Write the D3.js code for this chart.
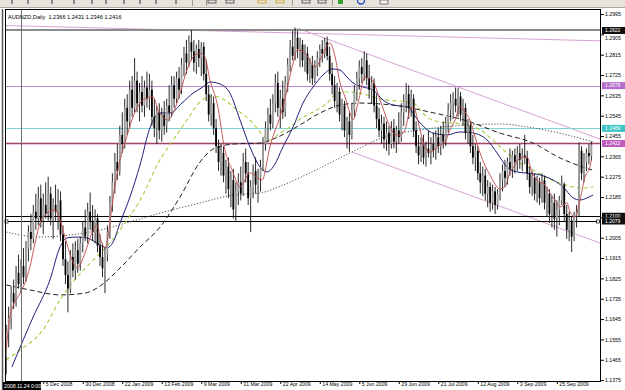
<!DOCTYPE html>
<html>
<head>
<meta charset="utf-8">
<script src="https://cdnjs.cloudflare.com/ajax/libs/d3/7.8.5/d3.min.js"></script>
<style>
  body { margin: 0; background: #fff; }
  svg { display: block; font-family: "Liberation Sans", Arial, sans-serif; }
</style>
</head>
<body>
<script>
// ---------------------- DATA ----------------------
// daily bars, index 0 = 14 Nov 2008 ... 237 = 15 Oct 2009
const open = [
  1.1480,1.1590,1.1650,1.1760,1.1720,1.1850,1.1800,1.1880,1.1830,1.1960,
  1.2030,1.2000,1.2120,1.2090,1.2180,1.2080,1.2150,1.2110,1.2200,1.2090,
  1.2150,1.2120,1.2170,1.2020,1.1910,1.1840,1.1780,1.1920,1.1860,1.1950,
  1.1890,1.1980,1.2050,1.2010,1.2120,1.2080,1.2030,1.2090,1.1970,1.1920,
  1.1870,1.1930,1.2030,1.2160,1.2250,1.2340,1.2300,1.2460,1.2420,1.2580,
  1.2520,1.2660,1.2580,1.2700,1.2600,1.2650,1.2590,1.2670,1.2620,1.2660,
  1.2540,1.2490,1.2560,1.2480,1.2550,1.2500,1.2590,1.2560,1.2680,1.2620,
  1.2710,1.2660,1.2770,1.2820,1.2780,1.2870,1.2830,1.2780,1.2840,1.2800,
  1.2850,1.2730,1.2640,1.2550,1.2600,1.2490,1.2410,1.2340,1.2380,1.2280,
  1.2320,1.2220,1.2260,1.2130,1.2210,1.2250,1.2200,1.2340,1.2290,1.2180,
  1.2230,1.2300,1.2240,1.2270,1.2320,1.2420,1.2490,1.2550,1.2510,1.2600,
  1.2690,1.2580,1.2620,1.2560,1.2690,1.2770,1.2850,1.2810,1.2890,1.2840,
  1.2860,1.2790,1.2820,1.2730,1.2770,1.2710,1.2760,1.2800,1.2840,1.2820,
  1.2870,1.2810,1.2730,1.2680,1.2610,1.2650,1.2550,1.2590,1.2480,1.2520,
  1.2460,1.2570,1.2650,1.2710,1.2760,1.2730,1.2790,1.2710,1.2660,1.2690,
  1.2590,1.2530,1.2480,1.2510,1.2440,1.2470,1.2420,1.2490,1.2430,1.2480,
  1.2450,1.2560,1.2610,1.2640,1.2580,1.2620,1.2480,1.2410,1.2370,1.2420,
  1.2360,1.2400,1.2380,1.2420,1.2390,1.2450,1.2410,1.2460,1.2430,1.2510,
  1.2570,1.2600,1.2620,1.2590,1.2630,1.2550,1.2580,1.2470,1.2500,1.2410,
  1.2360,1.2390,1.2290,1.2250,1.2280,1.2200,1.2230,1.2160,1.2210,1.2150,
  1.2200,1.2260,1.2300,1.2270,1.2340,1.2310,1.2370,1.2340,1.2380,1.2350,
  1.2370,1.2360,1.2290,1.2230,1.2270,1.2200,1.2250,1.2180,1.2260,1.2160,
  1.2200,1.2110,1.2160,1.2090,1.2130,1.2170,1.2240,1.2110,1.2040,1.2080,
  1.2010,1.2100,1.2120,1.2390,1.2290,1.2340,1.2380,1.2366
];
const high = [
  1.1620,1.1700,1.1790,1.1820,1.1880,1.1930,1.1910,1.1960,1.1990,1.2060,
  1.2110,1.2150,1.2200,1.2230,1.2240,1.2200,1.2250,1.2275,1.2230,1.2180,
  1.2240,1.2220,1.2210,1.2060,1.1990,1.1900,1.1950,1.1980,1.1990,1.2000,
  1.2010,1.2080,1.2130,1.2160,1.2205,1.2150,1.2130,1.2110,1.2020,1.1980,
  1.1960,1.2060,1.2190,1.2290,1.2380,1.2420,1.2500,1.2560,1.2620,1.2640,
  1.2700,1.2720,1.2800,1.2740,1.2690,1.2720,1.2700,1.2740,1.2730,1.2700,
  1.2620,1.2590,1.2600,1.2580,1.2610,1.2620,1.2680,1.2720,1.2720,1.2740,
  1.2760,1.2800,1.2850,1.2880,1.2900,1.2925,1.2880,1.2860,1.2880,1.2870,
  1.2870,1.2790,1.2680,1.2640,1.2630,1.2530,1.2440,1.2420,1.2410,1.2350,
  1.2360,1.2300,1.2310,1.2250,1.2290,1.2320,1.2380,1.2400,1.2340,1.2260,
  1.2330,1.2360,1.2310,1.2350,1.2450,1.2520,1.2580,1.2620,1.2640,1.2730,
  1.2740,1.2660,1.2700,1.2720,1.2800,1.2880,1.2920,1.2935,1.2920,1.2890,
  1.2880,1.2860,1.2850,1.2800,1.2810,1.2790,1.2830,1.2860,1.2880,1.2890,
  1.2895,1.2850,1.2780,1.2720,1.2690,1.2670,1.2620,1.2610,1.2540,1.2560,
  1.2600,1.2680,1.2740,1.2790,1.2800,1.2830,1.2820,1.2770,1.2720,1.2710,
  1.2640,1.2580,1.2550,1.2540,1.2520,1.2500,1.2520,1.2530,1.2500,1.2560,
  1.2600,1.2640,1.2690,1.2680,1.2660,1.2640,1.2520,1.2460,1.2450,1.2460,
  1.2430,1.2480,1.2450,1.2470,1.2480,1.2490,1.2500,1.2520,1.2540,1.2600,
  1.2640,1.2650,1.2670,1.2668,1.2650,1.2620,1.2600,1.2530,1.2520,1.2460,
  1.2420,1.2410,1.2340,1.2320,1.2310,1.2260,1.2250,1.2240,1.2230,1.2220,
  1.2290,1.2330,1.2350,1.2360,1.2400,1.2390,1.2400,1.2410,1.2420,1.2400,
  1.2460,1.2390,1.2320,1.2300,1.2290,1.2280,1.2270,1.2290,1.2280,1.2230,
  1.2220,1.2190,1.2200,1.2170,1.2190,1.2280,1.2250,1.2150,1.2120,1.2100,
  1.2120,1.2150,1.2425,1.2410,1.2380,1.2400,1.2420,1.2431
];
const low = [
  1.1400,1.1520,1.1600,1.1690,1.1700,1.1780,1.1760,1.1800,1.1810,1.1900,
  1.1950,1.1980,1.2040,1.2060,1.2050,1.2020,1.2090,1.2080,1.2060,1.2000,
  1.2080,1.2040,1.1990,1.1880,1.1800,1.1675,1.1760,1.1830,1.1820,1.1850,
  1.1860,1.1940,1.1990,1.1980,1.2040,1.1990,1.1980,1.1940,1.1880,1.1830,
  1.1760,1.1900,1.2000,1.2120,1.2200,1.2260,1.2280,1.2380,1.2400,1.2460,
  1.2490,1.2540,1.2560,1.2560,1.2520,1.2560,1.2540,1.2580,1.2570,1.2500,
  1.2450,1.2420,1.2440,1.2430,1.2460,1.2470,1.2520,1.2540,1.2580,1.2600,
  1.2620,1.2640,1.2720,1.2730,1.2760,1.2790,1.2740,1.2730,1.2760,1.2720,
  1.2700,1.2610,1.2520,1.2500,1.2460,1.2380,1.2300,1.2280,1.2250,1.2200,
  1.2180,1.2140,1.2090,1.2080,1.2150,1.2170,1.2190,1.2250,1.2150,1.2030,
  1.2180,1.2200,1.2160,1.2210,1.2300,1.2390,1.2430,1.2480,1.2490,1.2560,
  1.2540,1.2490,1.2530,1.2540,1.2650,1.2740,1.2790,1.2790,1.2800,1.2760,
  1.2760,1.2740,1.2700,1.2690,1.2680,1.2690,1.2720,1.2760,1.2780,1.2800,
  1.2790,1.2700,1.2640,1.2580,1.2560,1.2520,1.2480,1.2450,1.2400,1.2385,
  1.2440,1.2540,1.2610,1.2660,1.2690,1.2700,1.2680,1.2620,1.2600,1.2560,
  1.2490,1.2450,1.2420,1.2400,1.2390,1.2370,1.2400,1.2400,1.2380,1.2420,
  1.2430,1.2500,1.2560,1.2530,1.2540,1.2450,1.2380,1.2330,1.2340,1.2330,
  1.2320,1.2360,1.2330,1.2360,1.2350,1.2380,1.2370,1.2400,1.2410,1.2470,
  1.2520,1.2530,1.2560,1.2540,1.2520,1.2500,1.2440,1.2420,1.2380,1.2330,
  1.2300,1.2260,1.2200,1.2190,1.2170,1.2140,1.2120,1.2130,1.2110,1.2130,
  1.2170,1.2210,1.2230,1.2240,1.2280,1.2270,1.2290,1.2300,1.2310,1.2300,
  1.2330,1.2260,1.2200,1.2190,1.2170,1.2160,1.2150,1.2160,1.2130,1.2100,
  1.2070,1.2050,1.2040,1.2010,1.2060,1.2150,1.2080,1.2000,1.1990,1.1942,
  1.1990,1.2050,1.2100,1.2260,1.2250,1.2300,1.2330,1.2346
];
const close = [
  1.1590,1.1650,1.1760,1.1720,1.1850,1.1800,1.1880,1.1830,1.1960,1.2030,
  1.2000,1.2120,1.2090,1.2180,1.2080,1.2150,1.2110,1.2200,1.2090,1.2150,
  1.2120,1.2170,1.2020,1.1910,1.1840,1.1780,1.1920,1.1860,1.1950,1.1890,
  1.1980,1.2050,1.2010,1.2120,1.2080,1.2030,1.2090,1.1970,1.1920,1.1870,
  1.1930,1.2030,1.2160,1.2250,1.2340,1.2300,1.2460,1.2420,1.2580,1.2520,
  1.2660,1.2580,1.2700,1.2600,1.2650,1.2590,1.2670,1.2620,1.2660,1.2540,
  1.2490,1.2560,1.2480,1.2550,1.2500,1.2590,1.2560,1.2680,1.2620,1.2710,
  1.2660,1.2770,1.2820,1.2780,1.2870,1.2830,1.2780,1.2840,1.2800,1.2850,
  1.2730,1.2640,1.2550,1.2600,1.2490,1.2410,1.2340,1.2380,1.2280,1.2320,
  1.2220,1.2260,1.2130,1.2210,1.2250,1.2200,1.2340,1.2290,1.2180,1.2230,
  1.2300,1.2240,1.2270,1.2320,1.2420,1.2490,1.2550,1.2510,1.2600,1.2690,
  1.2580,1.2620,1.2560,1.2690,1.2770,1.2850,1.2810,1.2890,1.2840,1.2860,
  1.2790,1.2820,1.2730,1.2770,1.2710,1.2760,1.2800,1.2840,1.2820,1.2870,
  1.2810,1.2730,1.2680,1.2610,1.2650,1.2550,1.2590,1.2480,1.2520,1.2460,
  1.2570,1.2650,1.2710,1.2760,1.2730,1.2790,1.2710,1.2660,1.2690,1.2590,
  1.2530,1.2480,1.2510,1.2440,1.2470,1.2420,1.2490,1.2430,1.2480,1.2450,
  1.2560,1.2610,1.2640,1.2580,1.2620,1.2480,1.2410,1.2370,1.2420,1.2360,
  1.2400,1.2380,1.2420,1.2390,1.2450,1.2410,1.2460,1.2430,1.2510,1.2570,
  1.2600,1.2620,1.2590,1.2630,1.2550,1.2580,1.2470,1.2500,1.2410,1.2360,
  1.2390,1.2290,1.2250,1.2280,1.2200,1.2230,1.2160,1.2210,1.2150,1.2200,
  1.2260,1.2300,1.2270,1.2340,1.2310,1.2370,1.2340,1.2380,1.2350,1.2370,
  1.2360,1.2290,1.2230,1.2270,1.2200,1.2250,1.2180,1.2260,1.2160,1.2200,
  1.2110,1.2160,1.2090,1.2130,1.2170,1.2240,1.2110,1.2040,1.2080,1.2010,
  1.2100,1.2120,1.2390,1.2290,1.2340,1.2380,1.2366,1.2416
];

// moving averages as [bar index, price]
const maRed = [
  [0,1.1508],[1.5,1.1654],[5.6,1.1760],[7.6,1.1805],[9.6,1.1876],[11.7,1.1982],[13.7,1.2070],
  [16.5,1.2114],[19.8,1.2128],[21.8,1.2083],[23.8,1.2008],[26.7,1.1906],[28.7,1.1871],
  [31.9,1.1937],[34.7,1.2026],[36.8,1.2061],[38,1.2008],[40,1.1960],[41.2,1.2008],
  [42.9,1.2150],[44.1,1.2238],[46.1,1.2349],[48.1,1.2424],[50.9,1.2526],[54.2,1.2601],
  [57,1.2623],[59.5,1.2628],[61.5,1.2570],[63.5,1.2539],[65.5,1.2526],[67.6,1.2557],
  [70.4,1.2645],[73.2,1.2747],[75.7,1.2805],[78.5,1.2822],[80.5,1.2805],[82.5,1.2703],
  [85.4,1.2601],[88.6,1.2393],[91.5,1.2305],[94.7,1.2230],[98.7,1.2292],[103.6,1.2260],
  [106.8,1.2407],[112.1,1.2584],[116.2,1.2778],[117.8,1.2836],[121,1.2822],[125.1,1.2760],
  [129.1,1.2836],[131.1,1.2867],[133.2,1.2805],[135.2,1.2690],[137.2,1.2628],[139.2,1.2557],
  [140.5,1.2526],[142.5,1.2601],[145.3,1.2716],[148.2,1.2703],[151.4,1.2614],[155.5,1.2495],
  [157.5,1.2460],[159.5,1.2460],[161.5,1.2482],[163.5,1.2570],[164.8,1.2584],[167.6,1.2482],
  [169.6,1.2402],[171.6,1.2384],[175.7,1.2415],[177.7,1.2429],[179.7,1.2482],[181.8,1.2526],
  [183.8,1.2584],[185.8,1.2561],[187.8,1.2526],[189.9,1.2451],[191.9,1.2380],[195.9,1.2283],
  [200,1.2221],[202,1.2230],[204,1.2292],[206.1,1.2327],[208.1,1.2358],[210.9,1.2362],
  [212.9,1.2296],[215,1.2260],[218.2,1.2238],[220.2,1.2203],[222.3,1.2172],[224.3,1.2141],
  [227.1,1.2160],[228.3,1.2120],[230.4,1.2097],[232.4,1.2172],[234.4,1.2274],[236.4,1.2318],
  [237,1.2349]
];
const maBlue = [
  [2.3,1.1433],[10.9,1.1654],[17.7,1.1818],[21.8,1.1964],[24.6,1.2004],[28.7,1.2008],
  [32.7,1.2004],[38,1.1973],[40.8,1.1960],[43.3,1.1986],[46.1,1.2070],[50.1,1.2185],
  [54.2,1.2327],[58.2,1.2491],[62.3,1.2557],[66.3,1.2557],[71.2,1.2601],[75.7,1.2645],
  [79.7,1.2672],[82.5,1.2694],[86.6,1.2685],[90.6,1.2645],[94.7,1.2526],[98.7,1.2407],
  [102.8,1.2318],[105.6,1.2296],[108.1,1.2318],[112.1,1.2407],[116.2,1.2495],[120.2,1.2601],
  [124.3,1.2672],[128.3,1.2725],[132,1.2752],[135.2,1.2747],[138,1.2716],[140.5,1.2690],
  [144.5,1.2672],[148.6,1.2659],[152.6,1.2614],[156.7,1.2592],[162.3,1.2584],[167.6,1.2513],
  [172.9,1.2468],[178.5,1.2460],[183.8,1.2473],[189.1,1.2468],[194.7,1.2438],[198.8,1.2380],
  [202.8,1.2318],[206.9,1.2296],[210.9,1.2291],[216.2,1.2283],[221.5,1.2260],[225.5,1.2230],
  [229.6,1.2181],[232.4,1.2172],[235.2,1.2181],[237.7,1.2194]
];
const maGreen = [
  [0,1.1464],[5.6,1.1508],[14.9,1.1597],[21.8,1.1730],[28.7,1.1831],[35.2,1.1906],
  [42,1.1982],[48.9,1.2083],[55.4,1.2194],[61.1,1.2327],[67.6,1.2437],[73.2,1.2526],
  [78.5,1.2606],[83.8,1.2632],[87.8,1.2619],[93.5,1.2570],[98.7,1.2526],[104,1.2460],
  [106.8,1.2437],[110.9,1.2468],[114.9,1.2495],[120.2,1.2539],[124.3,1.2561],[129.9,1.2601],
  [134,1.2645],[138,1.2650],[143.3,1.2645],[148.6,1.2628],[154.2,1.2614],[159.5,1.2610],
  [164.8,1.2601],[170.4,1.2539],[175.7,1.2517],[181,1.2513],[186.6,1.2504],[191.9,1.2482],
  [197.2,1.2437],[202.8,1.2380],[208.1,1.2336],[213.4,1.2305],[219,1.2269],[224.3,1.2247],
  [229.6,1.2230],[233.6,1.2225],[237.7,1.2230]
];
const maDashed = [
  [0,1.1796],[9.6,1.1774],[21.8,1.1752],[31.9,1.1760],[38,1.1791],[46.1,1.1871],
  [54.2,1.1964],[62.3,1.2052],[70.4,1.2185],[78.5,1.2340],[84.6,1.2402],[92.7,1.2420],
  [102.8,1.2424],[110.9,1.2455],[119,1.2504],[127.1,1.2557],[135.2,1.2592],[143.3,1.2601],
  [151.4,1.2597],[159.5,1.2588],[171.6,1.2561],[186.6,1.2522],[200,1.2468],[213.4,1.2424],
  [224.3,1.2358],[232.4,1.2322],[237.3,1.2305]
];
const maDotted = [
  [0,1.2030],[13.7,1.2008],[25.8,1.2017],[38,1.2039],[50.1,1.2075],[62.3,1.2114],
  [78.5,1.2159],[91.9,1.2194],[102.8,1.2203],[112.1,1.2238],[123,1.2292],[139.2,1.2380],
  [154.2,1.2455],[167.6,1.2482],[186.6,1.2504],[200,1.2508],[213.4,1.2491],[227.1,1.2460],
  [237.7,1.2429]
];

// drawn objects: horizontal levels and trend lines [bar index, price]
const levels = [1.2922, 1.2678, 1.2489, 1.2422, 1.2100, 1.2079];
const levelColors = ["#8c8c8c", "#c088d4", "#80d4d4", "#985050", "#000000", "#000000"];
const levelBoxColors = ["#101010", "#b46ccc", "#3cc4c4", "#c05cc0", "#101010", "#101010"];
const topLine = [[-0.5, 1.2944], [240.9, 1.2876]];
const channelHigh = [[117.8, 1.2933], [240.9, 1.2440]];
const channelLow = [[140.1, 1.2384], [240.9, 1.1980]];

// axes
const yTicks = [1.2995,1.2905,1.2815,1.2725,1.2635,1.2545,1.2455,1.2365,1.2275,1.2185,
  1.2095,1.2005,1.1915,1.1825,1.1735,1.1645,1.1555,1.1465,1.1375];
const xTickIdx = [15,31,47,63,79,95,111,127,143,159,175,191,207,223];
const xTickLabels = ["5 Dec 2008","30 Dec 2008","22 Jan 2009","13 Feb 2009","9 Mar 2009",
  "31 Mar 2009","22 Apr 2009","14 May 2009","5 Jun 2009","29 Jun 2009","21 Jul 2009",
  "12 Aug 2009","3 Sep 2009","25 Sep 2009"];
const crossIdx = 6;
const crossLabel = "2008.11.24 0:00";
const header = "AUDNZD,Daily  1.2366 1.2431 1.2346 1.2416";

// ---------------------- LAYOUT ----------------------
const W = 625, H = 390;
const plot = { left: 5, right: 601, top: 9, bottom: 381 };

const svg = d3.select("body").append("svg")
    .attr("width", W)
    .attr("height", H);

const x = d3.scaleLinear().domain([0, 237]).range([6.2, 591.4]);
const y = d3.scaleLinear().domain([1.1375, 1.2995]).range([380.1, 14]);
const crisp = v => Math.round(v) + 0.5;   // snap 1px lines onto a pixel row

svg.append("defs").append("clipPath").attr("id", "clip")
  .append("rect")
    .attr("x", plot.left).attr("y", plot.top)
    .attr("width", plot.right - plot.left).attr("height", plot.bottom - plot.top);

// toolbar strip on top (cut off in the screenshot)
const tb = svg.append("g");
tb.append("rect").attr("width", W).attr("height", 8).attr("fill", "#e6e3dc");
tb.append("line").attr("x1", 0).attr("x2", W).attr("y1", 7.5).attr("y2", 7.5).attr("stroke", "#a8a6a0");
// icon stubs peeking out of the cropped toolbar
[12, 28, 52, 74, 92, 106, 124, 140, 156, 176].forEach(px => {
  tb.append("line").attr("x1", px).attr("x2", px).attr("y1", 0).attr("y2", 4)
      .attr("stroke", "#333").attr("stroke-width", 1);
});
[192, 206, 292, 332].forEach(px => {
  tb.append("line").attr("x1", px + 0.5).attr("x2", px + 0.5).attr("y1", 0).attr("y2", 6)
      .attr("stroke", "#9a9890").attr("stroke-width", 1);
});
[[212, "#404040"], [230, "#404040"], [262, "#d0a020"], [280, "#d0a020"], [306, "#404040"], [322, "#404040"]]
  .forEach(([px, col]) => {
    tb.append("rect").attr("x", px - 4).attr("y", 0).attr("width", 8).attr("height", 3)
        .attr("fill", "none").attr("stroke", col).attr("stroke-width", 0.8);
  });
tb.append("rect").attr("x", 338).attr("y", 0).attr("width", 5).attr("height", 4).attr("fill", "#30a030");
tb.append("circle").attr("cx", 361).attr("cy", 0.5).attr("r", 3.5)
    .attr("fill", "none").attr("stroke", "#2050c0").attr("stroke-width", 1.4);
tb.append("rect").attr("x", 380).attr("y", 0).attr("width", 8).attr("height", 4)
    .attr("fill", "#f4f4f4").attr("stroke", "#606060").attr("stroke-width", 0.8);

const chart = svg.append("g").attr("clip-path", "url(#clip)");

// trend lines
const seg = d3.line().x(d => x(d[0])).y(d => y(d[1]));
[topLine, channelHigh, channelLow].forEach(pts => {
  chart.append("path").attr("d", seg(pts))
      .attr("fill", "none").attr("stroke", "#d9a2d2").attr("stroke-width", 1);
});

// horizontal levels
levels.forEach((lv, k) => {
  const ly = k === 0 ? Math.round(y(lv)) : crisp(y(lv));
  if (lv === 1.2422) {
    chart.append("line")
        .attr("x1", plot.left).attr("x2", plot.right)
        .attr("y1", ly).attr("y2", ly)
        .attr("stroke", "#ebc3e4").attr("stroke-width", 3);
  }
  chart.append("line")
      .attr("x1", plot.left).attr("x2", plot.right)
      .attr("y1", ly).attr("y2", ly)
      .attr("stroke", levelColors[k])
      .attr("stroke-width", k === 0 ? 2 : 1);
});

// moving averages
const maLine = d3.line().x(d => x(d[0])).y(d => y(d[1])).curve(d3.curveMonotoneX);
const maStyles = [
  { data: maDotted, color: "#505050", dash: "1.2,1.8", w: 1 },
  { data: maDashed, color: "#202020", dash: "5,3", w: 1 },
  { data: maGreen, color: "#a2d040", dash: "4,3", w: 1.1 },
  { data: maBlue, color: "#20207a", dash: null, w: 1 },
];
maStyles.forEach(s => {
  chart.append("path").attr("d", maLine(s.data))
      .attr("fill", "none").attr("stroke", s.color)
      .attr("stroke-width", s.w)
      .attr("stroke-dasharray", s.dash);
});

// candles
const bars = close.map((c, i) => ({ i, o: open[i], h: high[i], l: low[i], c }));
chart.selectAll(".wick").data(bars).join("line")
    .attr("class", "wick")
    .attr("x1", d => x(d.i)).attr("x2", d => x(d.i))
    .attr("y1", d => y(d.h)).attr("y2", d => y(d.l))
    .attr("stroke", "#111").attr("stroke-width", 0.9);
chart.selectAll(".body").data(bars).join("rect")
    .attr("class", "body")
    .attr("x", d => x(d.i) - 0.9)
    .attr("width", 1.8)
    .attr("y", d => y(Math.max(d.o, d.c)))
    .attr("height", d => Math.max(0.8, Math.abs(y(d.o) - y(d.c))))
    .attr("fill", d => d.c >= d.o ? "#9c9c9c" : "#000");

// fast MA on top of the candles
chart.append("path").attr("d", maLine(maRed))
    .attr("fill", "none").attr("stroke", "#c04848").attr("stroke-width", 0.9);

// crosshair at 24 Nov 2008
svg.append("line")
    .attr("x1", crisp(x(crossIdx))).attr("x2", crisp(x(crossIdx)))
    .attr("y1", plot.top).attr("y2", plot.bottom)
    .attr("stroke", "#707070").attr("stroke-width", 1);

// small selection squares on the lower level
[plot.left + 1.5, plot.right - 3].forEach(px => {
  svg.append("rect").attr("x", px - 1.5).attr("y", crisp(y(1.2079)) - 1.5)
      .attr("width", 3).attr("height", 3)
      .attr("fill", "#fff").attr("stroke", "#000").attr("stroke-width", 0.7);
});

// frame
svg.append("rect")
    .attr("x", plot.left + 0.5).attr("y", plot.top + 0.5)
    .attr("width", plot.right - plot.left - 1).attr("height", plot.bottom - plot.top)
    .attr("fill", "none").attr("stroke", "#000").attr("stroke-width", 1);
svg.append("line").attr("x1", 2.5).attr("x2", 2.5).attr("y1", plot.top).attr("y2", H)
    .attr("stroke", "#555").attr("stroke-width", 1.5);

// header text
svg.append("text")
    .attr("x", 8).attr("y", 19)
    .attr("font-size", 5.6).attr("fill", "#000")
    .attr("xml:space", "preserve")
    .text(header);

// price axis
const yAxis = d3.axisRight(y).tickValues(yTicks).tickSize(3).tickFormat(d3.format(".4f"));
const gy = svg.append("g").attr("transform", `translate(${plot.right},0)`).call(yAxis);
gy.select(".domain").remove();
gy.selectAll("text").attr("font-size", 5.2).attr("font-family", "Liberation Sans, Arial, sans-serif")
    .attr("x", 4).attr("fill", "#000");
// tick labels sitting under a level box: hide if fully covered, else nudge just clear of it
gy.selectAll(".tick").each(function (t) {
  const ty = y(t);
  levels.forEach(lv => {
    const dist = ty - y(lv);
    if (Math.abs(dist) < 2) d3.select(this).select("text").remove();
    else if (Math.abs(dist) < 6.5) {
      d3.select(this).select("text").attr("dy", dist > 0 ? "1.05em" : "-0.25em");
    }
  });
});

// level labels on the price axis
const lab = svg.append("g");
levels.forEach((lv, k) => {
  lab.append("rect")
      .attr("x", plot.right + 1).attr("y", y(lv) - 3.5)
      .attr("width", 23).attr("height", 7)
      .attr("fill", levelBoxColors[k]);
  lab.append("text")
      .attr("x", plot.right + 4).attr("y", y(lv) + 1.8)
      .attr("font-size", 5).attr("fill", "#fff")
      .text(d3.format(".4f")(lv));
});

// time axis
const xAxis = d3.axisBottom(x).tickValues(xTickIdx).tickSize(3)
    .tickFormat((d, k) => xTickLabels[k]);
const gx = svg.append("g").attr("transform", `translate(0,${plot.bottom})`).call(xAxis);
gx.select(".domain").remove();
gx.selectAll("text")
    .attr("font-size", 5.2).attr("font-family", "Liberation Sans, Arial, sans-serif")
    .attr("text-anchor", "start").attr("dx", 2).attr("y", 1).attr("dy", "0.71em")
    .attr("fill", "#000");

// crosshair time label
svg.append("rect").attr("x", 3).attr("y", plot.bottom + 1)
    .attr("width", 38).attr("height", 8).attr("fill", "#000");
svg.append("text").attr("x", 4).attr("y", plot.bottom + 7)
    .attr("font-size", 5.2).attr("fill", "#fff").text(crossLabel);
</script>
</body>
</html>
